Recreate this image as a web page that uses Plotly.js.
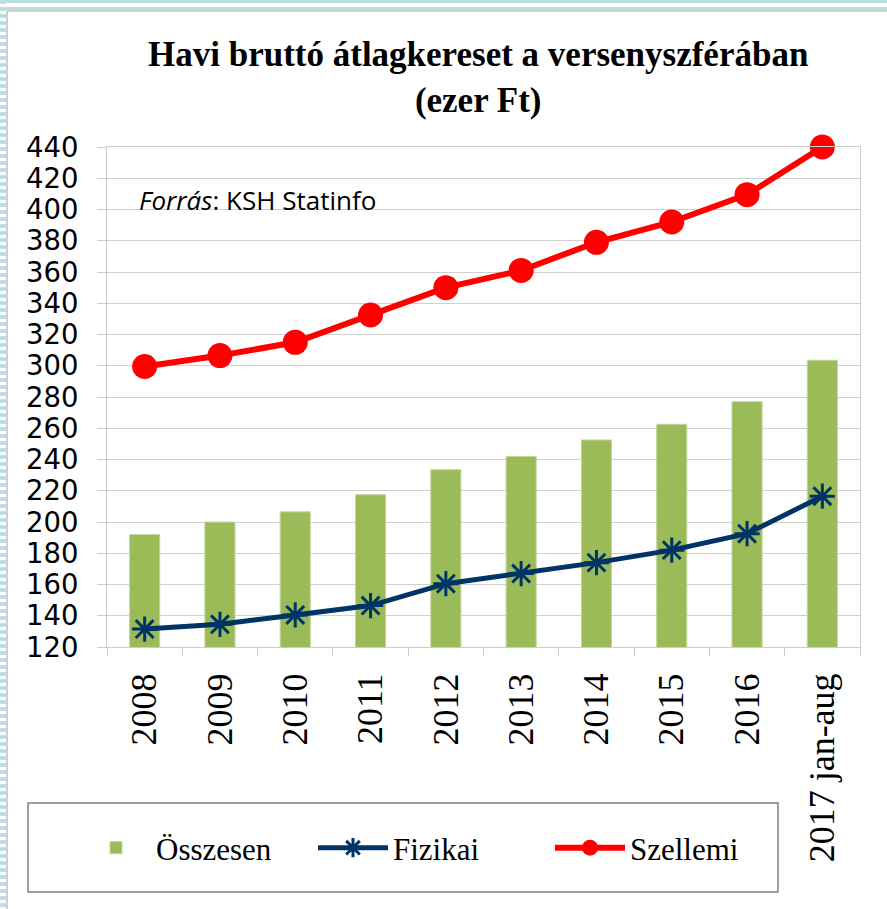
<!DOCTYPE html>
<html>
<head>
<meta charset="utf-8">
<script src="https://cdn.plot.ly/plotly-3.0.1.min.js"></script>
<style>html,body{margin:0;padding:0;background:#fff;}#chart{width:887px;height:909px;}</style>
</head>
<body>
<div id="chart"></div>
<script>
const categories = ["2008","2009","2010","2011","2012","2013","2014","2015","2016","2017 jan-aug"];
const osszesen = [192, 200, 206.5, 217.5, 233.5, 242, 252.5, 262.5, 277, 303.5];
const fizikai  = [131.5, 134.5, 140.5, 146.5, 160.5, 167, 174, 182, 192.5, 216.5];
const szellemi = [299.5, 306.5, 315, 332.5, 350, 361, 379, 392, 409.5, 440];
const yTicks = [120,140,160,180,200,220,240,260,280,300,320,340,360,380,400,420,440];
const titleText = 'Havi bruttó átlagkereset a versenyszférában<br>(ezer Ft)';
const sourceText = '<i>Forrás</i>: KSH Statinfo';

// pixel -> paper helpers (plot area: x 107..860, y 147..647)
const PX = px => (px - 107) / 753;
const PY = py => (647 - py) / 500;

const traces = [
  {type:'bar', name:'Összesen', x:categories, y:osszesen, base:0,
   marker:{color:'#9bbb59', line:{color:'#c3d69b', width:1}}, width:0.4},
  {type:'scatter', mode:'lines+markers', name:'Fizikai', x:categories, y:fizikai,
   line:{color:'#003366', width:5}, cliponaxis:false,
   marker:{symbol:'asterisk-open', size:21, color:'#003366', line:{color:'#003366', width:3}}},
  {type:'scatter', mode:'lines+markers', name:'Szellemi', x:categories, y:szellemi,
   line:{color:'#ff0000', width:6}, cliponaxis:false,
   marker:{symbol:'circle', size:25, color:'#ff0000'}}
];

const layout = {
  width:887, height:909,
  margin:{l:107, r:27, t:147, b:262},
  paper_bgcolor:'#ffffff', plot_bgcolor:'#ffffff',
  showlegend:true,
  xaxis:{type:'category', range:[-0.5,9.5], fixedrange:true,
    showgrid:false, showline:true, linecolor:'#cccccc', linewidth:1, mirror:true,
    ticks:'outside', ticklen:8, tickcolor:'#cccccc', tickson:'boundaries',
    tickangle:-90, ticklabelstandoff:11,
    tickfont:{family:'Liberation Serif', size:36, color:'#000'}},
  yaxis:{range:[120,440], tickvals:yTicks, fixedrange:true,
    showgrid:true, gridcolor:'#d0d0d0', gridwidth:1, zeroline:false,
    showline:true, linecolor:'#cccccc', linewidth:1, mirror:true,
    ticks:'outside', ticklen:9, tickcolor:'#cccccc', ticklabelstandoff:13,
    tickfont:{family:'DejaVu Sans', size:27.5, color:'#000'}},
  legend:{orientation:'h', x:PX(76), xanchor:'left', y:PY(848), yanchor:'middle',
    bgcolor:'rgba(0,0,0,0)', borderwidth:0, itemwidth:70, entrywidth:152, entrywidthmode:'pixels',
    font:{family:'Liberation Serif', size:31, color:'#000'}, traceorder:'normal'},
  annotations:[
    {text:titleText, xref:'paper', yref:'paper', x:PX(478), y:PY(77),
     xanchor:'center', yanchor:'middle', showarrow:false, align:'center',
     font:{family:'Liberation Serif', size:35, weight:700, color:'#000'}},
    {text:sourceText, xref:'paper', yref:'paper', x:PX(137), y:PY(200),
     xanchor:'left', yanchor:'middle', showarrow:false,
     font:{family:'Open Sans', size:26, color:'#000'}}
  ],
  shapes:[
    // legend box
    {type:'rect', xref:'paper', yref:'paper', x0:PX(28), x1:PX(778), y0:PY(803), y1:PY(892),
     line:{color:'#808080', width:1.5}, fillcolor:'rgba(0,0,0,0)', layer:'below'},
    // outer decorative frame
    {type:'rect', xref:'paper', yref:'paper', x0:PX(0), x1:PX(887), y0:PY(0), y1:PY(3),
     line:{width:0}, fillcolor:'#b9dfe2'},
    {type:'rect', xref:'paper', yref:'paper', x0:PX(0), x1:PX(887), y0:PY(7), y1:PY(10),
     line:{width:0}, fillcolor:'#b9dfe2'},
    {type:'line', xref:'paper', yref:'paper', x0:PX(3), x1:PX(3), y0:PY(0), y1:PY(909),
     line:{color:'#b9dfe2', width:6, dash:'4px,3px'}},
    {type:'line', xref:'paper', yref:'paper', x0:PX(7), x1:PX(887), y0:PY(11), y1:PY(11),
     line:{color:'#a0a0a0', width:1}},
    {type:'line', xref:'paper', yref:'paper', x0:PX(7), x1:PX(7), y0:PY(11), y1:PY(909),
     line:{color:'#a0a0a0', width:1}}
  ]
};

Plotly.newPlot('chart', traces, layout, {staticPlot:true, displayModeBar:false});
</script>
</body>
</html>
